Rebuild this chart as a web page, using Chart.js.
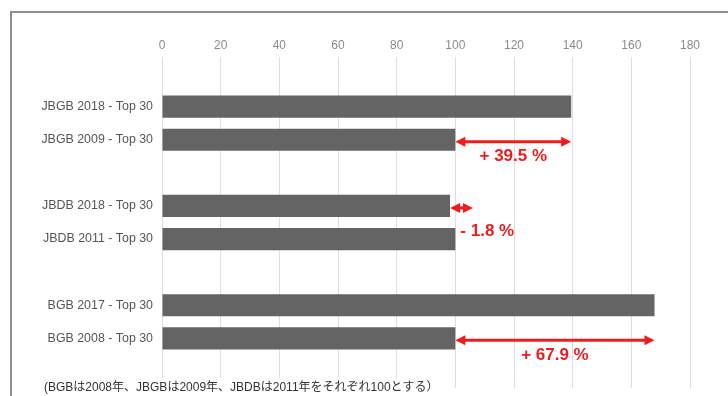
<!DOCTYPE html>
<html>
<head>
<meta charset="utf-8">
<script src="https://cdn.jsdelivr.net/npm/chart.js@4"></script>
<style>
  html, body { margin: 0; padding: 0; background: #fff; overflow: hidden; }
  #frame { position: absolute; left: 10px; top: 11px; width: 900px; height: 600px; border: 2px solid #8e8e8e; }
  #wrap { position: absolute; left: 0; top: 0; width: 728px; height: 396px; }
</style>
</head>
<body>
<div id="frame"></div>
<div id="wrap"><canvas id="myChart"></canvas></div>
<script>
// index scores, base year = 100 (empty rows separate the groups)
const categories = ['', 'JBGB 2018 - Top 30', 'JBGB 2009 - Top 30', '', 'JBDB 2018 - Top 30', 'JBDB 2011 - Top 30', '', 'BGB 2017 - Top 30', 'BGB 2008 - Top 30', ''];
const values = [null, 139.5, 100, null, 98.2, 100, null, 167.9, 100, null];

// x axis ticks
const xMin = 0;
const xMax = 180;
const xStep = 20;

// red change arrows
const changeRows = ['JBGB 2009 - Top 30', 'JBDB 2018 - Top 30', 'BGB 2008 - Top 30'];
const changeFrom = [100, 98.2, 100];
const changeTo = [139.5, 106, 167.9];
const changeLabels = ['+ 39.5 %', '- 1.8 %', '+ 67.9 %'];

const footnote = '(BGBは2008年、JBGBは2009年、JBDBは2011年をそれぞれ100とする）';

const RED = '#ec1c1f';

const arrowPlugin = {
    id: 'arrows',
    afterDatasetsDraw(chart) {
        const ctx = chart.ctx;
        const xs = chart.scales.x;
        const ys = chart.scales.y;
        ctx.save();
        changeRows.forEach((row, i) => {
            const y = ys.getPixelForValue(categories.indexOf(row)) + 2;
            const x1 = xs.getPixelForValue(changeFrom[i]);
            const x2 = xs.getPixelForValue(changeTo[i]);
            const left = Math.min(x1, x2), right = Math.max(x1, x2);
            const head = 10, half = 5;

            ctx.strokeStyle = RED;
            ctx.fillStyle = RED;
            ctx.lineWidth = 3;
            ctx.beginPath();
            ctx.moveTo(left + head - 1, y);
            ctx.lineTo(right - head + 1, y);
            ctx.stroke();

            ctx.beginPath();
            ctx.moveTo(left, y);
            ctx.lineTo(left + head, y - half);
            ctx.lineTo(left + head, y + half);
            ctx.closePath();
            ctx.fill();
            ctx.beginPath();
            ctx.moveTo(right, y);
            ctx.lineTo(right - head, y - half);
            ctx.lineTo(right - head, y + half);
            ctx.closePath();
            ctx.fill();

            ctx.font = 'bold 17px "Liberation Sans", Arial, sans-serif';
            ctx.textBaseline = 'middle';
            const w = ctx.measureText(changeLabels[i]).width;
            if (w > right - left) {
                ctx.textAlign = 'left';
                ctx.fillText(changeLabels[i], xs.getPixelForValue(100) + 5, y + 23);
            } else {
                ctx.textAlign = 'center';
                ctx.fillText(changeLabels[i], (left + right) / 2, y + 15);
            }
        });
        ctx.restore();
    },
    afterDraw(chart) {
        const ctx = chart.ctx;
        ctx.save();
        ctx.font = '12px "Liberation Sans", "Noto Sans CJK JP", sans-serif';
        const w = ctx.measureText(footnote).width;
        ctx.fillStyle = '#fff';
        ctx.fillRect(40, 378, w + 8, 18);
        ctx.fillStyle = '#333';
        ctx.textAlign = 'left';
        ctx.textBaseline = 'middle';
        ctx.fillText(footnote, 44, 388);
        ctx.restore();
    }
};

function renderChart() {
    const ctx = document.getElementById('myChart').getContext('2d');

    new Chart(ctx, {
        type: 'bar',
        data: {
            labels: categories,
            datasets: [{
                data: values,
                backgroundColor: '#646464',
                borderWidth: 0,
                categoryPercentage: 0.8,
                barPercentage: 0.84
            }]
        },
        options: {
            indexAxis: 'y',
            responsive: true,
            maintainAspectRatio: false,
            animation: false,
            layout: { padding: { left: 0, right: 38, top: 0, bottom: 8 } },
            plugins: {
                legend: { display: false },
                tooltip: { enabled: false }
            },
            scales: {
                x: {
                    position: 'top',
                    min: xMin,
                    max: xMax,
                    afterFit(scale) { scale.height = 57; },
                    ticks: {
                        stepSize: xStep,
                        padding: 4,
                        color: '#8a8a8a',
                        font: { family: '"Liberation Sans", Arial, sans-serif', size: 12 }
                    },
                    grid: { color: '#dedede', drawTicks: false, lineWidth: 1 },
                    border: { display: false }
                },
                y: {
                    afterFit(scale) {
                        scale.width = 162;
                        scale.paddingTop = 0;
                        scale.paddingBottom = 0;
                    },
                    ticks: {
                        padding: 9,
                        color: '#555',
                        autoSkip: false,
                        font: { family: '"Liberation Sans", Arial, sans-serif', size: 12.4 }
                    },
                    grid: { display: false, drawTicks: false },
                    border: { display: false }
                }
            }
        },
        plugins: [arrowPlugin]
    });
}

renderChart();
</script>
</body>
</html>
